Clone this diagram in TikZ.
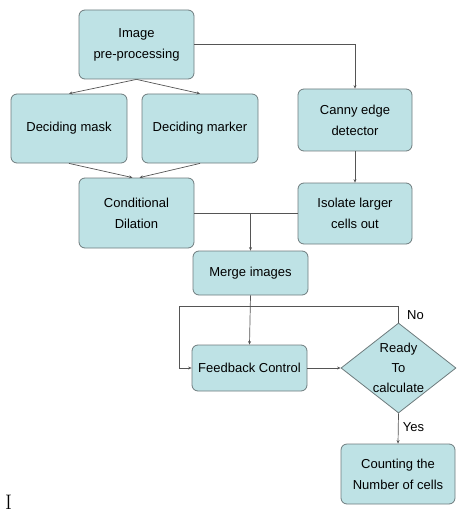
\documentclass[tikz,border=0pt]{standalone}
\usepackage{fontspec}
\setmainfont{Liberation Sans}
\usepackage{xcolor}
\usetikzlibrary{shapes.geometric,arrows.meta}

\begin{document}
\begin{tikzpicture}[x=1pt,y=-1pt,
    box/.style={draw=BoxLine, fill=BoxFill, rounded corners=6pt, line width=0.8pt,
        inner sep=0pt, align=center, font=\fontsize{13}{21}\selectfont},
    choice/.style={draw=BoxLine, fill=BoxFill, diamond, aspect=1.28, line width=0.8pt,
        inner sep=0pt, minimum width=115pt, minimum height=90pt, align=center,
        font=\fontsize{13}{20}\selectfont},
    link/.style={draw=LinkLine, line width=0.7pt, -{Stealth[length=3.5pt,width=3pt]}}]
    \definecolor{BoxFill}{HTML}{BEE2E5}
    \definecolor{BoxLine}{HTML}{6E7B7D}
    \definecolor{LinkLine}{HTML}{555555}
    \useasboundingbox (0,0) rectangle (456,513);
    % boxes
    \node[box, minimum width=115pt, minimum height=69pt] (pre) at (136.5,44.5) {Image\\pre-processing};
    \node[box, minimum width=116pt, minimum height=69pt] (mask) at (69,128.5) {Deciding mask};
    \node[box, minimum width=116pt, minimum height=69pt] (marker) at (200,128.5) {Deciding marker};
    \node[box, minimum width=114pt, minimum height=62pt] (canny) at (355,120) {Canny edge\\detector};
    \node[box, minimum width=115pt, minimum height=70pt] (cond) at (136.5,213) {Conditional\\Dilation};
    \node[box, minimum width=114pt, minimum height=61pt] (iso) at (355,213.5) {Isolate larger\\cells out};
    \node[box, minimum width=115pt, minimum height=44pt] (merge) at (250.5,273) {Merge images};
    \node[box, minimum width=115pt, minimum height=46pt] (feed) at (249.5,368) {Feedback Control};
    \node[choice] (ready) at (398.5,368) {Ready\\To\\calculate};
    \node[box, minimum width=114pt, minimum height=60pt] (count) at (398,474) {Counting the\\Number of cells};
    \node[font=\fontspec{Latin Modern Roman}\fontsize{21}{21}\selectfont, anchor=base west, inner sep=0pt] (mark) at (5,509) {I};
    % links
    \draw[link] (pre.east) -| (canny.north);
    \draw[link] (pre.south) -- (mask.north);
    \draw[link] (pre.south) -- (marker.north);
    \draw[link] (mask.south) -- ([xshift=-4pt]cond.north);
    \draw[link] (marker.south) -- ([xshift=3pt]cond.north);
    \draw[link] (canny.south) -- (iso.north);
    \draw[link] (cond.east) -| (merge.north);
    \draw[draw=LinkLine, line width=0.7pt] (iso.west) -- (iso.west -| merge.north);
    \draw[link] (merge.south) -- (feed.north);
    \draw[link] (feed.east) -- (ready.west);
    \coordinate (back) at ([xshift=-12pt]feed.west);
    \draw[link] (ready.north) -- ++(0,-16) node[pos=0.5, right=5pt, font=\fontsize{13}{15}\selectfont] (no) {No}
        -| (back) -- (feed.west);
    \draw[link] (ready.south) -- (count.north) node[pos=0.45, right=1pt, font=\fontsize{13}{15}\selectfont] (yes) {Yes};
\end{tikzpicture}
\end{document}
